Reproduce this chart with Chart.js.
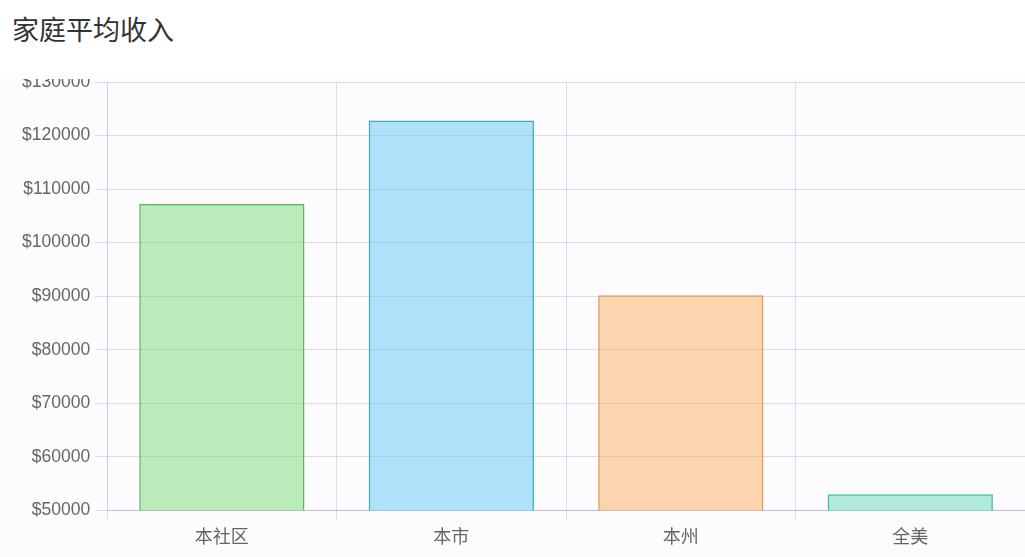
<!DOCTYPE html>
<html>
<head>
<meta charset="utf-8">
<script src="https://cdn.jsdelivr.net/npm/chart.js@4/dist/chart.umd.min.js"></script>
<style>
  html, body { margin: 0; padding: 0; background: #fff; }
  body { width: 1025px; height: 557px; position: relative; overflow: hidden;
         font-family: "Noto Sans CJK SC", "Noto Sans", sans-serif; }
  h2 { position: absolute; left: 12px; top: 9px; margin: 0; font-size: 27px; font-weight: normal; color: #333; }
  #clip { position: absolute; left: 0; top: 79px; width: 1025px; height: 478px; overflow: hidden; background: #fcfbfd; }
  #box { position: absolute; left: 0; top: -19px; width: 1025px; height: 497px; }
</style>
</head>
<body>
<h2>家庭平均收入</h2>
<div id="clip"><div id="box"><canvas id="chart"></canvas></div></div>
<script>
const categories = ['本社区', '本市', '本州', '全美'];
const incomes = [107200, 122800, 90200, 53000];
const yTicks = [50000, 130000, 10000]; // min, max, step

const fills = ['rgba(122, 218, 122, 0.5)', 'rgba(98, 200, 250, 0.5)', 'rgba(251, 174, 96, 0.5)', 'rgba(100, 220, 190, 0.5)'];
const borders = ['#5cb85c', '#3aaec6', '#e0994e', '#3cbf9c'];

const gridColor = 'rgba(200, 192, 212, 0.55)';

new Chart(document.getElementById('chart').getContext('2d'), {
    type: 'bar',
    data: {
        labels: categories,
        datasets: [{
            data: incomes,
            backgroundColor: fills,
            borderColor: borders,
            borderWidth: 1.5
        }]
    },
    options: {
        responsive: true,
        maintainAspectRatio: false,
        animation: false,
        layout: { padding: { top: 22, left: 17, right: 0, bottom: 5 } },
        plugins: {
            legend: { display: false },
            tooltip: { enabled: false }
        },
        scales: {
            x: {
                grid: { color: gridColor, tickLength: 10, offset: true },
                border: { color: 'rgba(190, 180, 205, 0.8)' },
                ticks: { color: '#666', font: { size: 18, family: '"Noto Sans CJK SC", sans-serif' }, padding: 5 }
            },
            y: {
                min: yTicks[0],
                max: yTicks[1],
                grid: { color: gridColor, tickLength: 12 },
                border: { color: gridColor },
                ticks: {
                    stepSize: yTicks[2],
                    color: '#666',
                    padding: 5,
                    font: { size: 17.5, family: '"Liberation Sans", Arial, sans-serif' },
                    callback: v => '$' + v
                }
            }
        }
    }
});
</script>
</body>
</html>
